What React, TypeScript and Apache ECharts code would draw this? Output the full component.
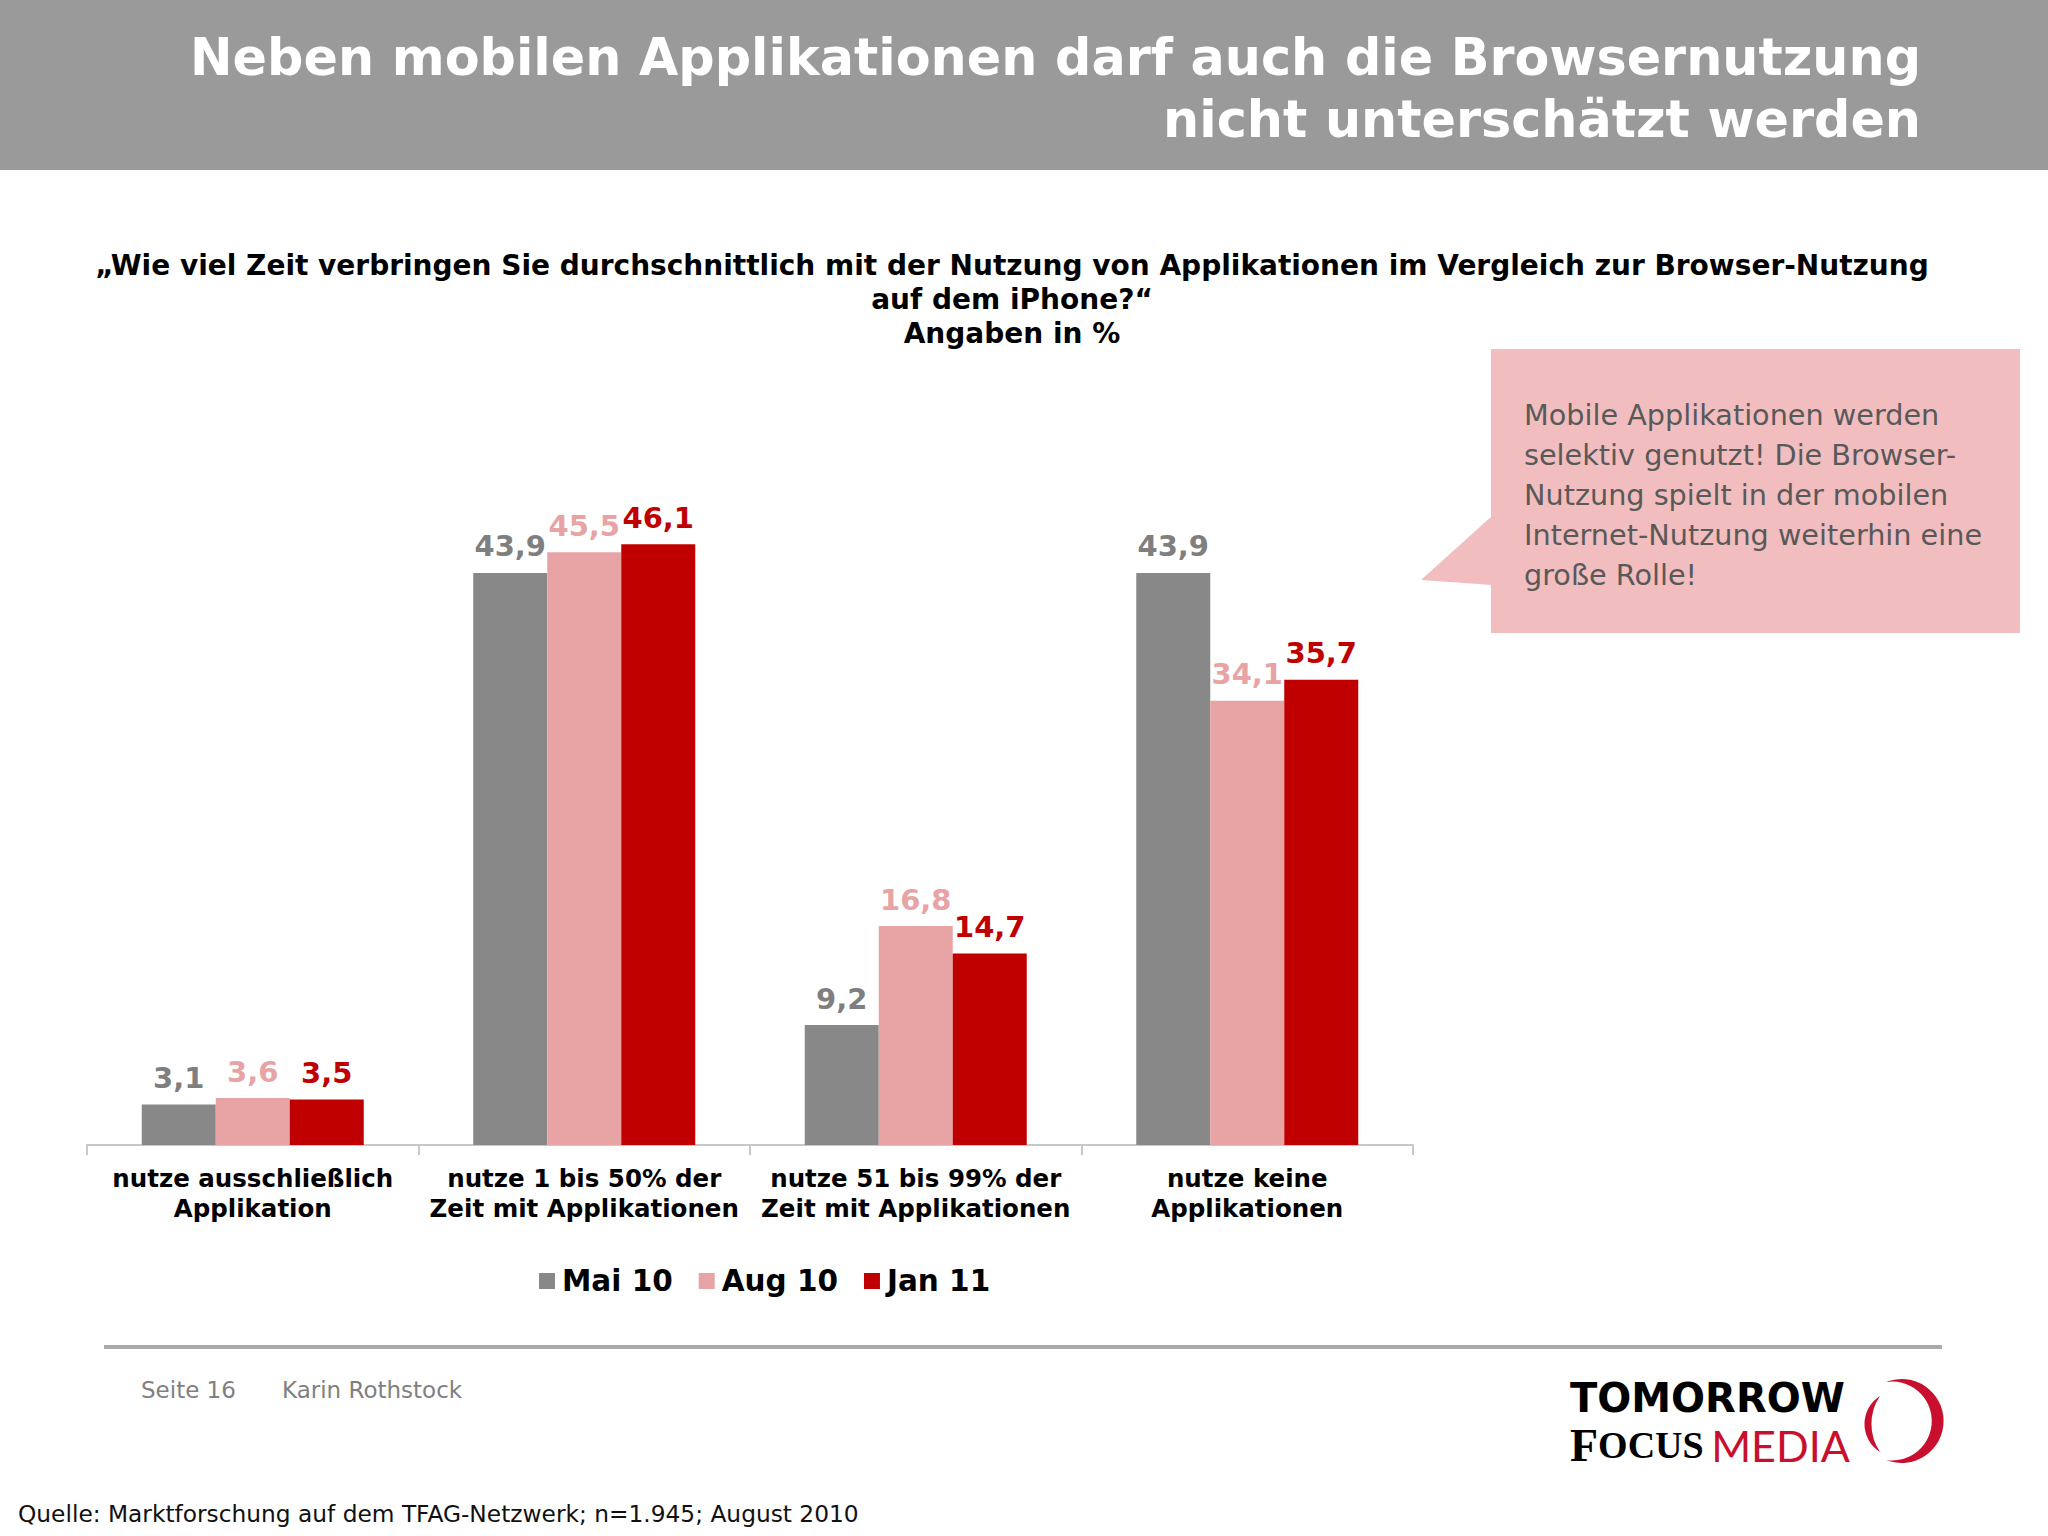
import React, { useEffect, useRef } from "react";
import * as echarts from "echarts";

const categories = [
  "nutze ausschließlich\nApplikation",
  "nutze 1 bis 50% der\nZeit mit Applikationen",
  "nutze 51 bis 99% der\nZeit mit Applikationen",
  "nutze keine\nApplikationen",
];
const seriesNames = ["Mai 10", "Aug 10", "Jan 11"];
const mai10 = [3.1, 43.9, 9.2, 43.9];
const aug10 = [3.6, 45.5, 16.8, 34.1];
const jan11 = [3.5, 46.1, 14.7, 35.7];
const barColors = ["#888888", "#e8a3a4", "#c00000"];
const labelColors = ["#7f7f7f", "#e8a3a4", "#c00000"];

const titleText = "Neben mobilen Applikationen darf auch die Browsernutzung\nnicht unterschätzt werden";
const subtitleText =
  "„Wie viel Zeit verbringen Sie durchschnittlich mit der Nutzung von Applikationen im Vergleich zur Browser-Nutzung\nauf dem iPhone?“\nAngaben in %";
const calloutText =
  "Mobile Applikationen werden\nselektiv genutzt! Die Browser-\nNutzung spielt in der mobilen\nInternet-Nutzung weiterhin eine\ngroße Rolle!";
const pageText = "Seite 16";
const authorText = "Karin Rothstock";
const sourceText = "Quelle: Marktforschung auf dem TFAG-Netzwerk; n=1.945; August 2010";

const FONT = "'DejaVu Sans', Verdana, sans-serif";

let shapesRegistered = false;
function registerShapes() {
  if (shapesRegistered) return;
  shapesRegistered = true;
  echarts.graphic.registerShape(
    "tfmRight",
    echarts.graphic.extendPath(
      "M 1886 1382 A 42 42 0 1 1 1886 1460 A 39.5 39.5 0 1 0 1886 1382 Z",
      {}
    )
  );
  echarts.graphic.registerShape(
    "tfmLeft",
    echarts.graphic.extendPath(
      "M 1880 1396 A 33 33 0 0 0 1880 1452 A 50 50 0 0 1 1880 1396 Z",
      {}
    )
  );
}

export default function App() {
  const ref = useRef<HTMLDivElement>(null);

  useEffect(() => {
    document.body.style.margin = "0";
    registerShapes();
    const chart = echarts.init(ref.current!, null, { renderer: "svg" });
    const seriesData = [mai10, aug10, jan11];
    const fmt = (p: any) => Number(p.value).toFixed(1).replace(".", ",");

    chart.setOption({
      animation: false,
      backgroundColor: "#ffffff",
      textStyle: { fontFamily: FONT },
      grid: { left: 87, right: 635, top: 493.5, bottom: 391, containLabel: false },
      legend: {
        data: seriesNames,
        left: 534,
        top: 1261,
        icon: "rect",
        itemWidth: 16,
        itemHeight: 16,
        itemGap: 26,
        textStyle: { fontFamily: FONT, fontSize: 29.5, fontWeight: "bold", color: "#000000", padding: [0, 0, 0, 2] },
      },
      xAxis: {
        type: "category",
        data: categories,
        axisLine: { show: true, lineStyle: { color: "#c8c8c8", width: 2 } },
        axisTick: { show: true, length: 10, lineStyle: { color: "#c8c8c8", width: 2 } },
        axisLabel: {
          interval: 0,
          margin: 18,
          fontFamily: FONT,
          fontSize: 24.5,
          fontWeight: "bold",
          color: "#000000",
          lineHeight: 30,
        },
      },
      yAxis: {
        type: "value",
        min: 0,
        max: 50,
        show: false,
        splitLine: { show: false },
      },
      series: seriesNames.map((name, i) => ({
        name,
        type: "bar",
        data: seriesData[i],
        barWidth: 74,
        barGap: "0%",
        itemStyle: { color: barColors[i] },
        label: {
          show: true,
          position: "top",
          distance: 12,
          formatter: fmt,
          fontFamily: FONT,
          fontSize: 29,
          fontWeight: "bold",
          color: labelColors[i],
        },
      })),
      graphic: [
        { type: "rect", shape: { x: 0, y: 0, width: 2048, height: 170 }, style: { fill: "#9a9a9a" }, z: 0 },
        {
          type: "text",
          x: 1921,
          y: 88,
          style: {
            text: titleText,
            fill: "#ffffff",
            fontFamily: FONT,
            fontSize: 50.8,
            fontWeight: "bold",
            lineHeight: 62,
            textAlign: "right",
            textVerticalAlign: "middle",
          },
        },
        {
          type: "text",
          x: 1012,
          y: 299,
          style: {
            text: subtitleText,
            fill: "#000000",
            fontFamily: FONT,
            fontSize: 28,
            fontWeight: "bold",
            lineHeight: 34,
            textAlign: "center",
            textVerticalAlign: "middle",
          },
        },
        {
          type: "polygon",
          shape: { points: [[1492, 516], [1421, 580], [1492, 585]] },
          style: { fill: "#f2bdbf" },
        },
        { type: "rect", shape: { x: 1491, y: 349, width: 529, height: 284 }, style: { fill: "#f2bdbf" } },
        {
          type: "text",
          x: 1524,
          y: 495,
          style: {
            text: calloutText,
            fill: "#595959",
            fontFamily: FONT,
            fontSize: 28.7,
            lineHeight: 40,
            textAlign: "left",
            textVerticalAlign: "middle",
          },
        },
        {
          type: "line",
          shape: { x1: 104, y1: 1347, x2: 1942, y2: 1347 },
          style: { stroke: "#aaaaaa", lineWidth: 4 },
        },
        {
          type: "text",
          x: 141,
          y: 1390,
          style: { text: pageText, fill: "#808080", fontFamily: FONT, fontSize: 23, textVerticalAlign: "middle" },
        },
        {
          type: "text",
          x: 282,
          y: 1390,
          style: { text: authorText, fill: "#808080", fontFamily: FONT, fontSize: 23, textVerticalAlign: "middle" },
        },
        {
          type: "text",
          x: 18,
          y: 1513,
          style: { text: sourceText, fill: "#111111", fontFamily: FONT, fontSize: 23.3, textVerticalAlign: "middle" },
        },
        {
          type: "text",
          x: 1570,
          y: 1398,
          style: {
            text: "TOMORROW",
            fill: "#000000",
            fontFamily: FONT,
            fontSize: 40,
            fontWeight: "bold",
            textVerticalAlign: "middle",
          },
        },
        {
          type: "text",
          x: 1570,
          y: 1445,
          style: {
            text: "{a|F}{b|OCUS}{s| }{c|MEDIA}",
            textVerticalAlign: "middle",
            rich: {
              a: { fontFamily: "'Liberation Serif', serif", fontSize: 46, fill: "#000000", fontWeight: "bold" },
              b: { fontFamily: "'Liberation Serif', serif", fontSize: 38, fill: "#000000", fontWeight: "bold" },
              s: { fontFamily: "'Liberation Serif', serif", fontSize: 30, fill: "#000000" },
              c: { fontFamily: "Lato, sans-serif", fontSize: 43, fill: "#c8102e" },
            },
          },
        },
        { type: "tfmLeft", x: 0, y: 0, style: { fill: "#c8102e" } },
        { type: "tfmRight", x: 0, y: 0, style: { fill: "#c8102e" } },
      ],
    });
    return () => chart.dispose();
  }, []);

  return <div ref={ref} style={{ width: 2048, height: 1536 }} />;
}
